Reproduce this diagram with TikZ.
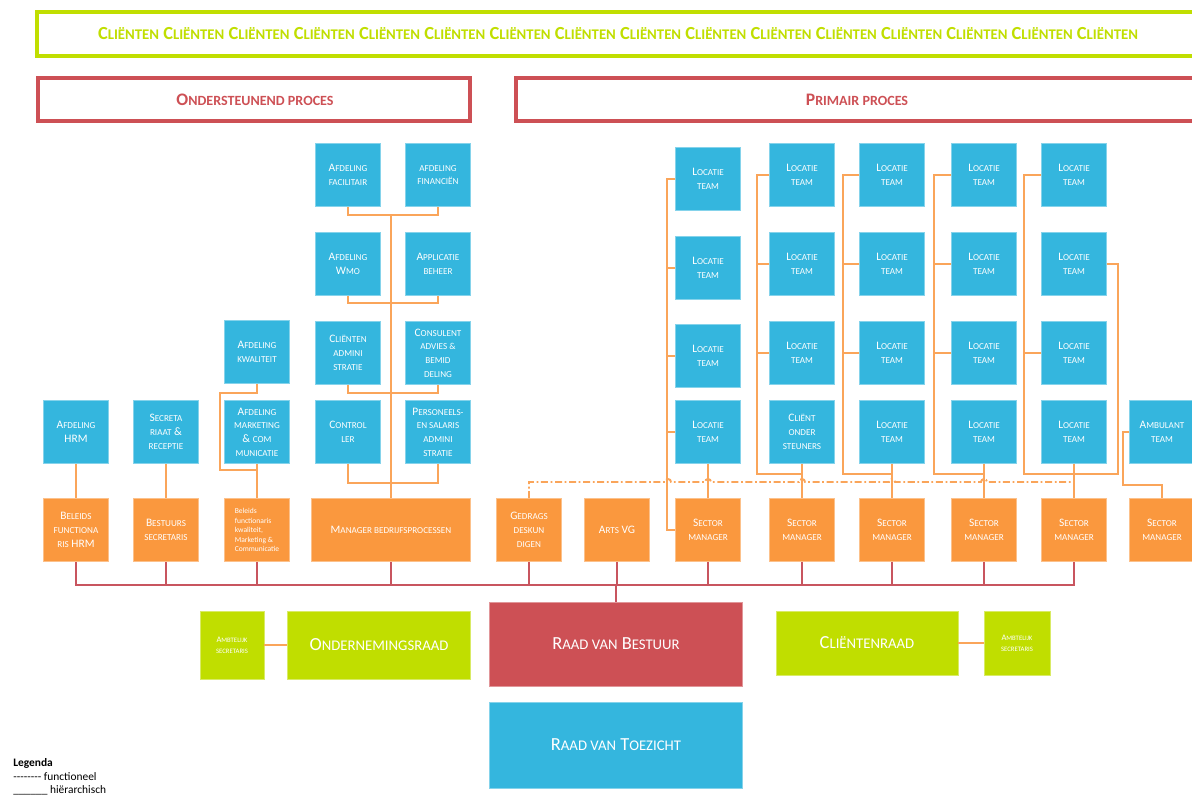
\documentclass[tikz,border=0pt]{standalone}
\usepackage{fontspec}
\setmainfont{Carlito}
\usetikzlibrary{positioning,calc}
\definecolor{orgblue}{RGB}{52,182,222}
\definecolor{orgorange}{RGB}{250,152,62}
\definecolor{orgred}{RGB}{205,80,85}
\definecolor{orggreen}{RGB}{192,222,0}
\definecolor{linkorange}{RGB}{250,165,90}
\definecolor{busred}{RGB}{200,85,95}

% nagemaakte kleinkapitalen
\newcommand{\sk}[1]{\scalebox{0.8}{\MakeUppercase{#1}}}
\newcommand{\clnt}{C\sk{liënten}}

\tikzset{
  blubox/.style={fill=orgblue, draw=orgblue!60!white, line width=0.4pt, text=white,
    minimum width=1.3cm, minimum height=1.26cm, inner sep=1pt, align=center,
    font=\fontsize{6.5}{7.8}\selectfont},
  orabox/.style={blubox, fill=orgorange, draw=orgorange!60!white},
  grnbox/.style={blubox, fill=orggreen, draw=orggreen!60!white},
  hline/.style={draw=linkorange, line width=1.1pt},
  funcline/.style={draw=linkorange, line width=1.1pt, dash pattern=on 4pt off 1.5pt on 1pt off 1.5pt},
  bus/.style={draw=busred, line width=1.1pt},
  headtext/.style={font=\fontsize{10}{12}\selectfont\bfseries}
}

\begin{document}
\begin{tikzpicture}[x=0.02cm, y=-0.02cm]
    \useasboundingbox (0,0) rectangle (1192,798);

    % kopregels
    \draw[orggreen, line width=2.3pt] (37,12) rectangle (1215,56);
    \node[headtext, text=orggreen, font=\fontsize{10.5}{12}\selectfont\bfseries] (clients) at (618,34)
      {\clnt{} \clnt{} \clnt{} \clnt{} \clnt{} \clnt{} \clnt{} \clnt{} \clnt{} \clnt{} \clnt{} \clnt{} \clnt{} \clnt{} \clnt{} \clnt};
    \draw[orgred, line width=2.3pt] (38,78) rectangle (470,121);
    \node[headtext, text=orgred] (support) at (255,100) {O\sk{ndersteunend proces}};
    \draw[orgred, line width=2.3pt] (516,78) rectangle (1215,121);
    \node[headtext, text=orgred] (primary) at (857,100) {P\sk{rimair proces}};

    % ondersteunend proces
    \node[blubox] (fac)  at (348,175) {A\sk{fdeling}\\\sk{facilitair}};
    \node[blubox] (fin)  at (438,175) {\sk{afdeling}\\\sk{financiën}};
    \node[blubox] (wmo)  at (348,264) {A\sk{fdeling}\\W\sk{mo}};
    \node[blubox] (app)  at (438,264) {A\sk{pplicatie}\\\sk{beheer}};
    \node[blubox] (cadm) at (348,353) {C\sk{liënten}\\\sk{admini}\\\sk{stratie}};
    \node[blubox] (cons) at (438,353) {C\sk{onsulent}\\\sk{advies \&}\\\sk{bemid}\\\sk{deling}};
    \node[blubox] (ctrl) at (348,432) {C\sk{ontrol}\\\sk{ler}};
    \node[blubox] (pers) at (438,432) {P\sk{ersoneels-}\\\sk{en salaris}\\\sk{admini}\\\sk{stratie}};
    \node[blubox] (kwal) at (257,352) {A\sk{fdeling}\\\sk{kwaliteit}};
    \node[blubox] (hrm)  at (76,432)  {A\sk{fdeling}\\HRM};
    \node[blubox] (secr) at (166,432) {S\sk{ecreta}\\\sk{riaat} \&\\\sk{receptie}};
    \node[blubox] (mark) at (257,432) {A\sk{fdeling}\\\sk{marketing}\\\& \sk{com}\\\sk{municatie}};

    \node[orabox] (bhrm)  at (76,530)  {B\sk{eleids}\\\sk{functiona}\\\sk{ris} HRM};
    \node[orabox] (bsec)  at (166,530) {B\sk{estuurs}\\\sk{secretaris}};
    \node[orabox, align=left, font=\fontsize{4.3}{5.4}\selectfont] (bkwal) at (257,530)
      {Beleids\\functionaris\\kwaliteit,\\Marketing \&\\Communicatie};
    \node[orabox, minimum width=3.18cm] (mgr) at (391,530) {M\sk{anager bedrijfsprocessen}};

    % primair proces
    \node[orabox] (gedr) at (529,530) {G\sk{edrags}\\\sk{deskun}\\\sk{digen}};
    \node[orabox] (arts) at (617,530) {A\sk{rts} VG};
    \node[orabox] (sm1) at (708,530)  {S\sk{ector}\\\sk{manager}};
    \node[orabox] (sm2) at (802,530)  {S\sk{ector}\\\sk{manager}};
    \node[orabox] (sm3) at (892,530)  {S\sk{ector}\\\sk{manager}};
    \node[orabox] (sm4) at (984,530)  {S\sk{ector}\\\sk{manager}};
    \node[orabox] (sm5) at (1074,530) {S\sk{ector}\\\sk{manager}};
    \node[orabox] (sm6) at (1162,530) {S\sk{ector}\\\sk{manager}};

    \node[blubox] (l11) at (708,179) {L\sk{ocatie}\\\sk{team}};
    \node[blubox] (l12) at (708,268) {L\sk{ocatie}\\\sk{team}};
    \node[blubox] (l13) at (708,356) {L\sk{ocatie}\\\sk{team}};
    \node[blubox] (l14) at (708,432) {L\sk{ocatie}\\\sk{team}};
    \foreach \c/\x in {2/802,3/892,4/984,5/1074} {
      \node[blubox] (l\c1) at (\x,175) {L\sk{ocatie}\\\sk{team}};
      \node[blubox] (l\c2) at (\x,264) {L\sk{ocatie}\\\sk{team}};
      \node[blubox] (l\c3) at (\x,353) {L\sk{ocatie}\\\sk{team}};
    }
    \node[blubox] (l24) at (802,432)  {C\sk{liënt}\\\sk{onder}\\\sk{steuners}};
    \node[blubox] (l34) at (892,432)  {L\sk{ocatie}\\\sk{team}};
    \node[blubox] (l44) at (984,432)  {L\sk{ocatie}\\\sk{team}};
    \node[blubox] (l54) at (1074,432) {L\sk{ocatie}\\\sk{team}};
    \node[blubox] (amb) at (1162,432) {A\sk{mbulant}\\\sk{team}};

    % raden
    \node[grnbox, minimum width=1.28cm, minimum height=1.36cm, font=\fontsize{4.8}{6.4}\selectfont] (amtl) at (232,645) {A\sk{mbtelijk}\\\sk{secretaris}};
    \node[grnbox, minimum width=3.66cm, minimum height=1.36cm, font=\fontsize{10.5}{13}\selectfont] (or) at (379,645) {O\sk{ndernemingsraad}};
    \node[orabox, fill=orgred, draw=orgred!60!white, minimum width=5.06cm, minimum height=1.68cm, font=\fontsize{10.5}{13}\selectfont] (rvb) at (616,644) {R\sk{aad van} B\sk{estuur}};
    \node[blubox, minimum width=5.06cm, minimum height=1.72cm, font=\fontsize{10.5}{13}\selectfont] (rvt) at (616,745) {R\sk{aad van} T\sk{oezicht}};
    \node[grnbox, minimum width=3.64cm, minimum height=1.28cm, font=\fontsize{10.5}{13}\selectfont] (cr) at (867,643) {C\sk{liëntenraad}};
    \node[grnbox, minimum width=1.32cm, minimum height=1.28cm, font=\fontsize{4.8}{6.4}\selectfont] (amtr) at (1017,643) {A\sk{mbtelijk}\\\sk{secretaris}};

    \draw[hline] (amtl) -- (or);
    \draw[hline] (cr) -- (amtr);

    % lijnen ondersteunend
    \draw[hline] (fac.south) -- ++(0,8) -| (fin.south);
    \draw[hline] (wmo.south) -- ++(0,7) -| (app.south);
    \draw[hline] (cadm.south) -- ++(0,8) -| (cons.south);
    \draw[hline] (ctrl.south) -- ++(0,19) -| (pers.south);
    \draw[hline] (mgr.north) -- (mgr.north |- 0,215);
    \draw[hline] (hrm) -- (bhrm);
    \draw[hline] (secr) -- (bsec);
    \draw[hline] (mark) -- (bkwal);
    \draw[hline] (kwal.south) -- ++(0,9) -- ++(-37,0) |- (mark.south |- 0,470);

    % lijnen primair
    \draw[hline] (l11.west) -- ++(-8,0) |- (sm1.west);
    \foreach \r in {2,3,4} \draw[hline] (l1\r.west) -- ++(-8,0);
    \draw[hline] (l14) -- (sm1);
    \foreach \c/\d in {2/12,3/16,4/17,5/17} {
      \draw[hline] (l\c1.west) -- ++(-\d,0) |- (sm\c.north |- 0,474);
      \draw[hline] (l\c4) -- (sm\c);
      \draw[hline] (l\c3.west) -- ++(-\d,0);
    }
    \foreach \c/\d in {2/12,3/16,4/17} \draw[hline] (l\c2.west) -- ++(-\d,0);
    \draw[hline] (l52.east) -- ++(11,0) |- (sm5.north |- 0,474);
    \draw[hline] (amb.west) -- ++(-6,0) -- ++(0,53) -| (sm6.north);

    % functionele lijn
    \draw[funcline] (gedr.north) -- (gedr.north |- 0,482)
      \foreach \hx in {668,708,802,892,984} { -- (\hx-3,482) arc[start angle=180, end angle=0, radius=0.06cm] }
      -- (sm5.north |- 0,482);

    % hierarchische lijn
    \draw[bus] (bhrm.south) -- (bhrm.south |- 0,585) -| (sm5.south);
    \foreach \n in {bsec,bkwal,mgr,gedr,arts,sm1,sm2,sm3,sm4}
      \draw[bus] (\n.south) -- (\n.south |- 0,585);
    \draw[bus] (rvb.north) -- (rvb.north |- 0,585);

    % legenda
    \node[anchor=west, inner sep=0pt, font=\fontsize{6.5}{7}\selectfont\bfseries] (leg) at (13,763) {Legenda};
    \node[anchor=west, inner sep=0pt, font=\fontsize{6.5}{7}\selectfont] (legf) at (13,777) {-{}-{}-{}-{}-{}-{}-{}- functioneel};
    \node[anchor=west, inner sep=0pt, font=\fontsize{6.5}{7}\selectfont] (legh) at (13,790) {\_\_\_\_\_\_ hiërarchisch};
\end{tikzpicture}
\end{document}
